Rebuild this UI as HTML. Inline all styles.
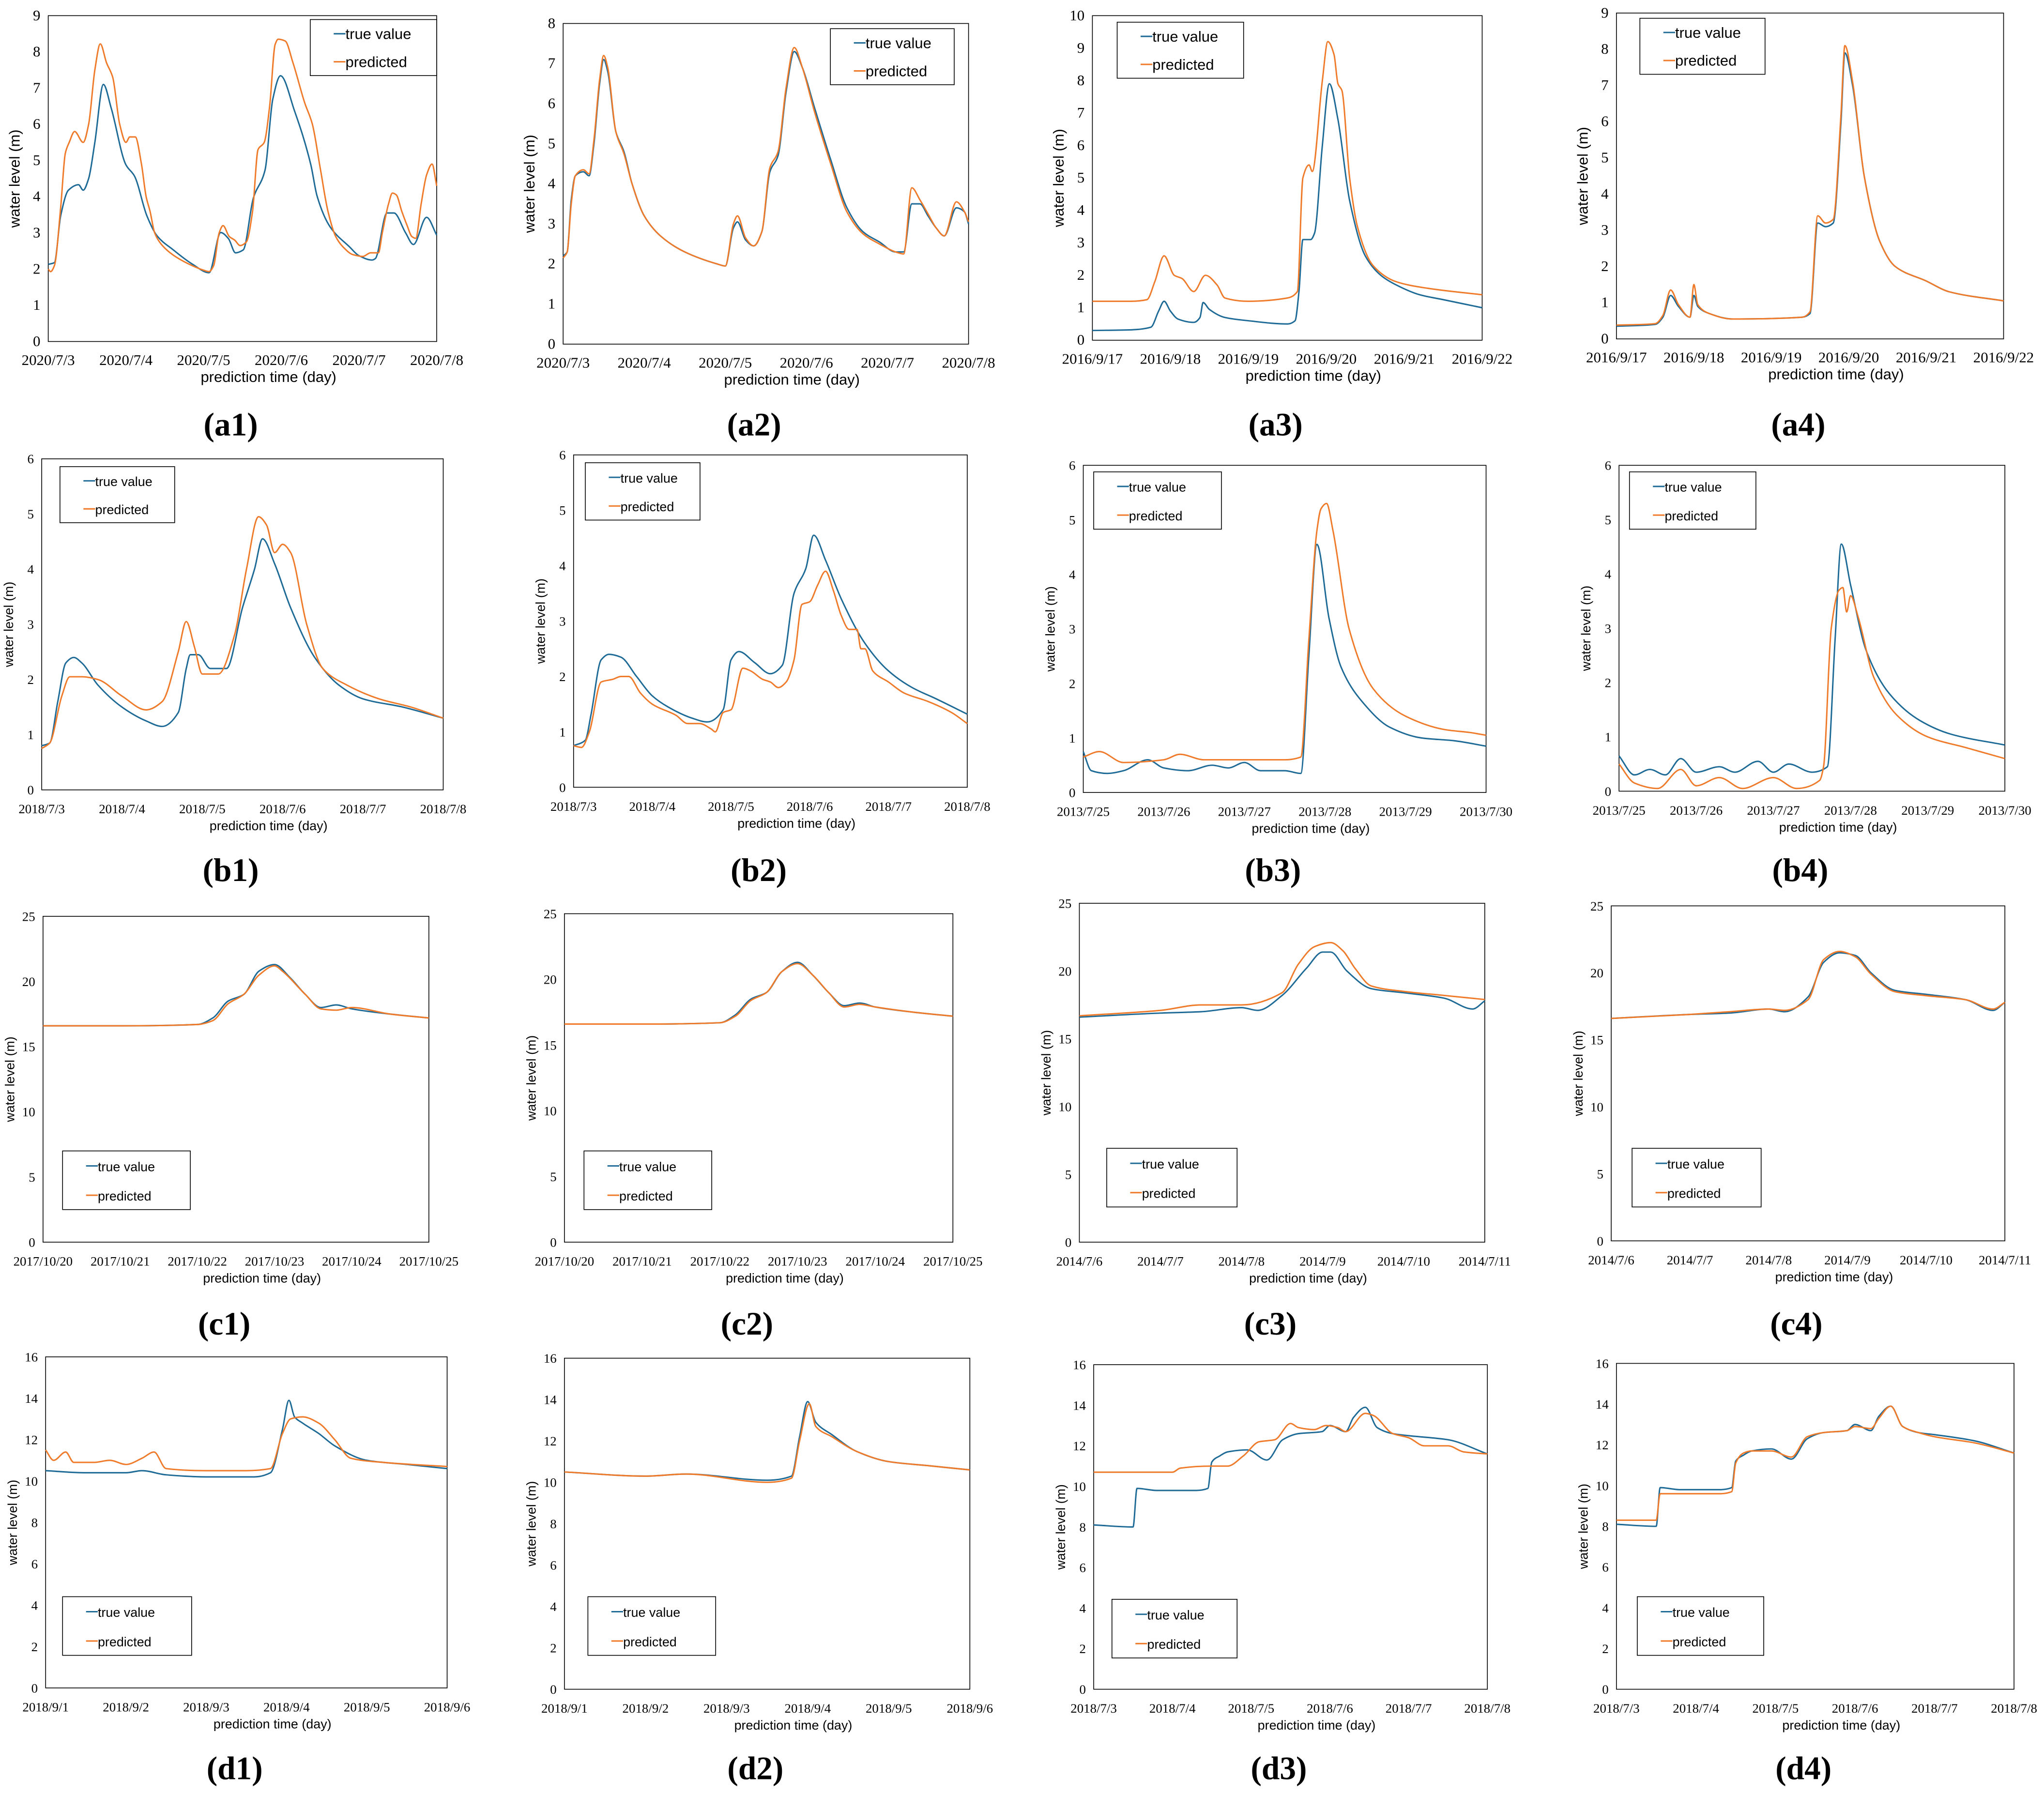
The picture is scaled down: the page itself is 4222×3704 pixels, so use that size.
<!DOCTYPE html>
<html><head><meta charset="utf-8">
<style>
html,body{margin:0;padding:0;background:#fff;}
svg{display:block;}
</style></head>
<body>
<svg id="fig" xmlns="http://www.w3.org/2000/svg" width="4222" height="3704" viewBox="0 0 1568 1375.6">
<rect x="0" y="0" width="1568" height="1375.6" fill="#fff"/>
</svg>
<script>
// ---- data (day offset, water level) ----
const a1_true=[[0,2.13],[0.08,2.18],[0.16,3.47],[0.26,4.18],[0.39,4.33],[0.45,4.18],[0.52,4.5],[0.6,5.5],[0.71,7.1],[0.81,6.45],[1.0,4.88],[1.11,4.57],[1.27,3.47],[1.4,2.92],[1.61,2.53],[1.86,2.13],[2.07,1.9],[2.22,3.01],[2.32,2.84],[2.41,2.45],[2.51,2.53],[2.64,3.96],[2.79,4.73],[2.89,6.69],[2.99,7.34],[3.17,6.37],[3.38,4.88],[3.46,4.02],[3.63,3.16],[3.88,2.61],[4.0,2.37],[4.17,2.25],[4.21,2.29],[4.36,3.55],[4.45,3.55],[4.6,3.0],[4.7,2.68],[4.87,3.43],[5,2.94]];
const a1_pred=[[0,2.0],[0.03,1.93],[0.08,2.1],[0.16,3.7],[0.22,5.2],[0.27,5.5],[0.34,5.8],[0.45,5.5],[0.52,6.0],[0.6,7.5],[0.67,8.22],[0.75,7.7],[0.83,7.3],[0.92,6.0],[1.0,5.5],[1.05,5.65],[1.12,5.65],[1.2,4.9],[1.26,4.0],[1.31,3.6],[1.37,3.0],[1.45,2.7],[1.6,2.4],[1.8,2.15],[2.0,1.97],[2.07,1.93],[2.13,2.1],[2.2,3.0],[2.25,3.2],[2.33,2.9],[2.4,2.8],[2.47,2.65],[2.55,2.75],[2.63,3.6],[2.7,5.3],[2.78,5.5],[2.85,6.5],[2.92,8.2],[2.96,8.35],[3.05,8.3],[3.15,7.7],[3.3,6.6],[3.4,6.0],[3.5,4.8],[3.6,3.6],[3.7,2.9],[3.8,2.6],[3.92,2.4],[4.05,2.35],[4.15,2.45],[4.25,2.45],[4.3,3.0],[4.38,3.8],[4.43,4.1],[4.48,4.05],[4.55,3.6],[4.62,3.2],[4.68,2.9],[4.73,2.85],[4.8,3.8],[4.87,4.6],[4.94,4.9],[5.0,4.3]];
const a2_true=[[0,2.2],[0.05,2.3],[0.1,3.6],[0.15,4.2],[0.25,4.3],[0.32,4.2],[0.38,5.0],[0.45,6.5],[0.5,7.1],[0.55,6.8],[0.65,5.3],[0.75,4.8],[0.85,4.0],[1.0,3.2],[1.2,2.7],[1.5,2.3],[1.9,2.0],[2.0,1.95],[2.1,2.9],[2.15,3.05],[2.25,2.6],[2.35,2.45],[2.45,2.8],[2.55,4.3],[2.65,4.7],[2.75,6.3],[2.85,7.3],[2.95,6.9],[3.1,5.9],[3.3,4.6],[3.5,3.4],[3.7,2.8],[3.9,2.55],[4.1,2.3],[4.2,2.3],[4.3,3.5],[4.4,3.5],[4.5,3.2],[4.6,2.9],[4.7,2.7],[4.85,3.4],[4.95,3.3],[5.0,3.0]];
const a2_pred=[[0,2.15],[0.05,2.3],[0.1,3.5],[0.15,4.2],[0.25,4.35],[0.32,4.25],[0.38,5.1],[0.45,6.6],[0.5,7.2],[0.55,6.9],[0.65,5.3],[0.75,4.75],[0.85,4.0],[1.0,3.2],[1.2,2.7],[1.5,2.3],[1.9,2.0],[2.0,1.95],[2.1,3.0],[2.15,3.2],[2.25,2.65],[2.35,2.45],[2.45,2.8],[2.55,4.4],[2.65,4.8],[2.75,6.4],[2.85,7.4],[2.95,6.9],[3.1,5.8],[3.3,4.5],[3.5,3.3],[3.7,2.75],[3.9,2.5],[4.1,2.3],[4.2,2.25],[4.3,3.9],[4.4,3.6],[4.5,3.25],[4.6,2.9],[4.7,2.7],[4.85,3.55],[4.95,3.3],[5.0,3.05]];
const a3_true=[[0,0.3],[0.5,0.32],[0.75,0.4],[0.85,0.9],[0.92,1.2],[1.0,0.9],[1.1,0.65],[1.3,0.55],[1.38,0.7],[1.42,1.16],[1.5,0.95],[1.7,0.7],[2.0,0.6],[2.5,0.5],[2.6,0.6],[2.65,1.5],[2.7,3.1],[2.8,3.1],[2.85,3.3],[2.95,6.0],[3.04,7.9],[3.15,6.8],[3.3,4.3],[3.5,2.6],[3.7,2.0],[3.9,1.7],[4.2,1.4],[4.5,1.25],[5,1.0]];
const a3_pred=[[0,1.2],[0.5,1.2],[0.7,1.25],[0.8,1.8],[0.92,2.6],[1.05,2.0],[1.15,1.9],[1.3,1.5],[1.45,2.0],[1.6,1.7],[1.7,1.3],[2.0,1.2],[2.5,1.3],[2.63,1.5],[2.7,5.0],[2.78,5.4],[2.82,5.2],[2.95,8.0],[3.02,9.2],[3.1,8.8],[3.15,7.9],[3.2,7.7],[3.3,5.0],[3.4,3.5],[3.6,2.3],[3.9,1.8],[4.3,1.6],[5,1.4]];
const a4_true=[[0,0.35],[0.5,0.4],[0.6,0.6],[0.7,1.2],[0.8,0.9],[0.95,0.6],[1.0,1.2],[1.05,0.9],[1.2,0.7],[1.5,0.55],[2.4,0.6],[2.5,0.7],[2.6,3.2],[2.7,3.1],[2.8,3.2],[2.9,6.0],[2.95,7.9],[3.05,7.0],[3.2,4.5],[3.4,2.7],[3.6,2.0],[4.0,1.6],[4.3,1.3],[5,1.05]];
const a4_pred=[[0,0.38],[0.5,0.42],[0.6,0.65],[0.7,1.35],[0.8,0.95],[0.95,0.6],[1.0,1.5],[1.05,0.95],[1.2,0.7],[1.5,0.55],[2.4,0.6],[2.5,0.75],[2.6,3.4],[2.7,3.2],[2.8,3.3],[2.9,6.2],[2.95,8.1],[3.05,7.1],[3.2,4.5],[3.4,2.7],[3.6,2.0],[4.0,1.6],[4.3,1.3],[5,1.05]];
const b1_true=[[0,0.8],[0.1,0.85],[0.2,1.6],[0.3,2.3],[0.4,2.4],[0.5,2.3],[0.7,1.9],[1.0,1.5],[1.3,1.25],[1.5,1.15],[1.7,1.4],[1.8,2.2],[1.85,2.45],[1.95,2.45],[2.1,2.2],[2.3,2.2],[2.5,3.3],[2.65,4.0],[2.75,4.55],[2.9,4.1],[3.1,3.3],[3.4,2.4],[3.7,1.9],[4.0,1.65],[4.5,1.5],[5,1.3]];
const b1_pred=[[0,0.75],[0.1,0.85],[0.25,1.7],[0.35,2.05],[0.5,2.05],[0.7,2.0],[1.0,1.7],[1.3,1.45],[1.5,1.6],[1.7,2.5],[1.8,3.05],[1.9,2.6],[2.0,2.1],[2.2,2.1],[2.4,2.8],[2.55,4.0],[2.7,4.95],[2.8,4.8],[2.9,4.3],[3.0,4.45],[3.1,4.3],[3.3,3.0],[3.5,2.2],[3.8,1.9],[4.2,1.65],[4.6,1.5],[5,1.3]];
const b2_true=[[0,0.75],[0.15,0.85],[0.22,1.3],[0.35,2.3],[0.45,2.4],[0.6,2.35],[0.8,2.0],[1.0,1.65],[1.2,1.45],[1.5,1.25],[1.7,1.18],[1.9,1.4],[2.0,2.3],[2.1,2.45],[2.3,2.25],[2.5,2.05],[2.65,2.2],[2.8,3.5],[2.95,3.95],[3.05,4.55],[3.2,4.1],[3.4,3.4],[3.7,2.6],[4.0,2.1],[4.3,1.8],[4.6,1.6],[5,1.32]];
const b2_pred=[[0,0.75],[0.1,0.72],[0.2,1.0],[0.35,1.9],[0.5,1.95],[0.6,2.0],[0.7,2.0],[0.85,1.7],[1.0,1.5],[1.3,1.3],[1.45,1.15],[1.6,1.15],[1.75,1.05],[1.8,1.0],[1.9,1.35],[2.0,1.4],[2.15,2.15],[2.25,2.1],[2.4,1.95],[2.5,1.9],[2.6,1.8],[2.7,1.9],[2.8,2.3],[2.9,3.3],[3.0,3.35],[3.1,3.65],[3.2,3.9],[3.3,3.55],[3.4,3.1],[3.5,2.85],[3.6,2.85],[3.65,2.5],[3.7,2.5],[3.8,2.1],[4.0,1.9],[4.2,1.7],[4.5,1.55],[4.8,1.35],[5,1.15]];
const b3_true=[[0,0.75],[0.1,0.4],[0.3,0.35],[0.5,0.4],[0.8,0.6],[1.0,0.45],[1.3,0.4],[1.6,0.5],[1.8,0.45],[2.0,0.55],[2.2,0.4],[2.5,0.4],[2.7,0.35],[2.8,2.5],[2.9,4.55],[3.05,3.2],[3.2,2.3],[3.5,1.6],[3.8,1.2],[4.2,1.0],[4.6,0.95],[5,0.85]];
const b3_pred=[[0,0.65],[0.2,0.75],[0.5,0.55],[1.0,0.6],[1.2,0.7],[1.5,0.6],[2.0,0.6],[2.5,0.6],[2.7,0.65],[2.8,2.8],[2.9,4.8],[2.95,5.2],[3.02,5.3],[3.1,4.8],[3.3,3.0],[3.6,1.9],[4.0,1.4],[4.5,1.15],[4.8,1.1],[5,1.05]];
const b4_true=[[0,0.65],[0.2,0.3],[0.4,0.4],[0.6,0.3],[0.8,0.6],[1.0,0.35],[1.3,0.45],[1.5,0.35],[1.8,0.55],[2.0,0.35],[2.2,0.5],[2.5,0.35],[2.7,0.45],[2.8,2.8],[2.88,4.55],[3.0,3.8],[3.2,2.6],[3.5,1.8],[3.9,1.3],[4.3,1.05],[5,0.85]];
const b4_pred=[[0,0.5],[0.2,0.15],[0.5,0.05],[0.8,0.4],[1.0,0.1],[1.3,0.25],[1.6,0.05],[2.0,0.25],[2.3,0.05],[2.6,0.2],[2.65,0.45],[2.75,3.0],[2.85,3.7],[2.9,3.75],[2.95,3.3],[3.0,3.6],[3.1,3.2],[3.3,2.1],[3.6,1.4],[4.0,1.0],[4.5,0.8],[5,0.6]];
const c1_true=[[0,16.6],[1,16.6],[2,16.7],[2.2,17.2],[2.4,18.5],[2.6,19.0],[2.8,20.8],[3.0,21.3],[3.2,20.3],[3.4,19.0],[3.6,18.0],[3.8,18.2],[4.0,17.9],[4.5,17.5],[5,17.2]];
const c1_pred=[[0,16.6],[1,16.6],[2,16.7],[2.2,17.0],[2.4,18.3],[2.6,19.0],[2.8,20.5],[3.0,21.2],[3.1,20.8],[3.4,19.0],[3.6,17.9],[3.8,17.8],[4.0,18.0],[4.5,17.5],[5,17.2]];
const c2_true=[[0,16.6],[1,16.6],[2,16.7],[2.2,17.3],[2.4,18.5],[2.6,19.0],[2.8,20.6],[3.0,21.3],[3.2,20.3],[3.4,19.0],[3.6,18.0],[3.8,18.2],[4.0,17.9],[4.5,17.5],[5,17.2]];
const c2_pred=[[0,16.6],[1,16.6],[2,16.7],[2.2,17.2],[2.4,18.4],[2.6,19.0],[2.8,20.6],[3.0,21.2],[3.2,20.3],[3.4,19.0],[3.6,17.9],[3.8,18.1],[4.0,17.9],[4.5,17.5],[5,17.2]];
const c3_true=[[0,16.6],[1.0,16.9],[1.5,17.0],[2.0,17.3],[2.2,17.1],[2.5,18.2],[2.8,20.2],[3.0,21.4],[3.1,21.4],[3.3,20.0],[3.6,18.7],[4.0,18.4],[4.5,18.0],[4.85,17.2],[5,17.8]];
const c3_pred=[[0,16.7],[1.0,17.1],[1.5,17.5],[2.0,17.5],[2.5,18.4],[2.7,20.5],[2.9,21.8],[3.1,22.1],[3.25,21.5],[3.4,20.2],[3.6,18.9],[4.0,18.5],[4.5,18.2],[5,17.9]];
const c4_true=[[0,16.6],[1.0,16.9],[1.5,17.0],[2.0,17.3],[2.2,17.1],[2.5,18.2],[2.7,20.8],[2.9,21.5],[3.1,21.3],[3.3,20.0],[3.6,18.7],[4.0,18.4],[4.5,18.0],[4.85,17.2],[5,17.8]];
const c4_pred=[[0,16.6],[1.0,16.9],[1.5,17.1],[2.0,17.3],[2.2,17.2],[2.5,18.0],[2.7,21.0],[2.9,21.6],[3.1,21.2],[3.3,19.9],[3.6,18.6],[4.0,18.3],[4.5,18.0],[4.85,17.3],[5,17.8]];
const d1_true=[[0,10.5],[0.5,10.4],[1.0,10.4],[1.2,10.5],[1.5,10.3],[2.0,10.2],[2.6,10.2],[2.8,10.4],[2.95,12.5],[3.03,13.9],[3.1,13.1],[3.2,12.8],[3.4,12.3],[3.6,11.7],[4.0,11.0],[4.5,10.8],[5,10.6]];
const d1_pred=[[0,11.5],[0.1,11.0],[0.25,11.4],[0.35,10.9],[0.6,10.9],[0.8,11.0],[1.0,10.8],[1.2,11.1],[1.35,11.4],[1.5,10.6],[2.0,10.5],[2.5,10.5],[2.8,10.6],[2.95,12.3],[3.05,13.0],[3.2,13.1],[3.4,12.8],[3.6,12.0],[3.8,11.1],[4.2,10.9],[5,10.7]];
const d2_true=[[0,10.5],[1,10.3],[1.5,10.4],[2.5,10.1],[2.8,10.3],[2.9,12.2],[3.0,13.9],[3.1,12.9],[3.3,12.3],[3.6,11.5],[4.0,11.0],[4.5,10.8],[5,10.6]];
const d2_pred=[[0,10.5],[1,10.3],[1.5,10.4],[2.5,10.0],[2.8,10.2],[2.9,12.0],[3.02,13.8],[3.1,12.7],[3.3,12.2],[3.6,11.5],[4.0,11.0],[4.5,10.8],[5,10.6]];
const d3_true=[[0,8.1],[0.5,8.0],[0.55,9.9],[0.8,9.8],[1.3,9.8],[1.45,9.9],[1.5,11.2],[1.6,11.5],[1.7,11.7],[1.95,11.8],[2.2,11.3],[2.4,12.3],[2.6,12.6],[2.9,12.7],[3.0,13.0],[3.2,12.7],[3.3,13.4],[3.45,13.9],[3.6,12.9],[3.8,12.6],[4.0,12.5],[4.5,12.3],[5,11.6]];
const d3_pred=[[0,10.7],[1.0,10.7],[1.1,10.9],[1.5,11.0],[1.7,11.0],[1.9,11.5],[2.1,12.2],[2.3,12.3],[2.5,13.1],[2.6,12.9],[2.8,12.8],[2.95,13.0],[3.1,12.9],[3.2,12.7],[3.45,13.6],[3.55,13.5],[3.8,12.6],[4.0,12.4],[4.2,12.0],[4.5,12.0],[4.7,11.7],[5,11.6]];
const d4_true=[[0,8.1],[0.5,8.0],[0.55,9.9],[0.8,9.8],[1.3,9.8],[1.45,9.9],[1.5,11.2],[1.6,11.5],[1.7,11.7],[1.95,11.8],[2.2,11.3],[2.4,12.3],[2.6,12.6],[2.9,12.7],[3.0,13.0],[3.2,12.7],[3.3,13.4],[3.45,13.9],[3.6,12.9],[3.8,12.6],[4.0,12.5],[4.5,12.2],[5,11.6]];
const d4_pred=[[0,8.3],[0.5,8.3],[0.55,9.6],[0.8,9.6],[1.3,9.6],[1.45,9.7],[1.5,11.1],[1.6,11.6],[1.7,11.7],[1.95,11.7],[2.2,11.4],[2.4,12.4],[2.6,12.6],[2.9,12.7],[3.0,12.9],[3.2,12.8],[3.3,13.3],[3.45,13.9],[3.6,12.9],[3.8,12.6],[4.0,12.4],[4.5,12.1],[5,11.6]];
// tick labels
const datesA12=["2020/7/3","2020/7/4","2020/7/5","2020/7/6","2020/7/7","2020/7/8"];
const datesA34=["2016/9/17","2016/9/18","2016/9/19","2016/9/20","2016/9/21","2016/9/22"];
const datesB12=["2018/7/3","2018/7/4","2018/7/5","2018/7/6","2018/7/7","2018/7/8"];
const datesB34=["2013/7/25","2013/7/26","2013/7/27","2013/7/28","2013/7/29","2013/7/30"];
const datesC12=["2017/10/20","2017/10/21","2017/10/22","2017/10/23","2017/10/24","2017/10/25"];
const datesC34=["2014/7/6","2014/7/7","2014/7/8","2014/7/9","2014/7/10","2014/7/11"];
const datesD1=["2018/9/1","2018/9/2","2018/9/3","2018/9/4","2018/9/5","2018/9/6"];
const datesD3=["2018/7/3","2018/7/4","2018/7/5","2018/7/6","2018/7/7","2018/7/8"];

// ---- layout (positions in 1568-wide units) ----
const panels=[
 {id:"a1",L:37,R:335,T:12,B:262,ymax:9,step:1,dates:datesA12,t:a1_true,p:a1_pred,lg:[238,15,97,43],fs:11.5,lab:326},
 {id:"a2",L:432,R:743,T:18,B:264,ymax:8,step:1,dates:datesA12,t:a2_true,p:a2_pred,lg:[637,22,95,43],fs:11.5,lab:326},
 {id:"a3",L:838,R:1137,T:12,B:261,ymax:10,step:1,dates:datesA34,t:a3_true,p:a3_pred,lg:[857,17,97,43],fs:11.5,lab:326},
 {id:"a4",L:1240,R:1537,T:10,B:260,ymax:9,step:1,dates:datesA34,t:a4_true,p:a4_pred,lg:[1258,14,96,43],fs:11.5,lab:326},
 {id:"b1",L:32,R:340,T:352,B:606,ymax:6,step:1,dates:datesB12,t:b1_true,p:b1_pred,lg:[46,358,88,43],fs:10,lab:668},
 {id:"b2",L:440,R:742,T:349,B:604,ymax:6,step:1,dates:datesB12,t:b2_true,p:b2_pred,lg:[449,355,88,44],fs:10,lab:668},
 {id:"b3",L:831,R:1140,T:357,B:608,ymax:6,step:1,dates:datesB34,t:b3_true,p:b3_pred,lg:[839,362,98,44],fs:10,lab:668},
 {id:"b4",L:1242,R:1538,T:357,B:607,ymax:6,step:1,dates:datesB34,t:b4_true,p:b4_pred,lg:[1250,362,97,44],fs:10,lab:668},
 {id:"c1",L:33,R:329,T:703,B:953,ymax:25,step:5,dates:datesC12,t:c1_true,p:c1_pred,lg:[48,883,98,45],fs:10,lab:1016},
 {id:"c2",L:433,R:731,T:701,B:953,ymax:25,step:5,dates:datesC12,t:c2_true,p:c2_pred,lg:[448,883,98,45],fs:10,lab:1016},
 {id:"c3",L:828,R:1139,T:693,B:953,ymax:25,step:5,dates:datesC34,t:c3_true,p:c3_pred,lg:[849,881,100,45],fs:10,lab:1016},
 {id:"c4",L:1236,R:1538,T:695,B:952,ymax:25,step:5,dates:datesC34,t:c4_true,p:c4_pred,lg:[1252,881,99,45],fs:10,lab:1016},
 {id:"d1",L:35,R:343,T:1041,B:1295,ymax:16,step:2,dates:datesD1,t:d1_true,p:d1_pred,lg:[48,1225,99,45],fs:10,lab:1357},
 {id:"d2",L:433,R:744,T:1042,B:1296,ymax:16,step:2,dates:datesD1,t:d2_true,p:d2_pred,lg:[451,1225,98,45],fs:10,lab:1357},
 {id:"d3",L:839,R:1141,T:1047,B:1296,ymax:16,step:2,dates:datesD3,t:d3_true,p:d3_pred,lg:[853,1227,96,45],fs:10,lab:1357},
 {id:"d4",L:1240,R:1545,T:1046,B:1296,ymax:16,step:2,dates:datesD3,t:d4_true,p:d4_pred,lg:[1256,1225,97,45],fs:10,lab:1357}
];
const BLUE="#1d6a96", ORANGE="#ef7a2a";
const NS="http://www.w3.org/2000/svg";
const svg=document.getElementById("fig");
function mk(tag,attrs,parent){const e=document.createElementNS(NS,tag);for(const k in attrs)e.setAttribute(k,attrs[k]);(parent||svg).appendChild(e);return e;}
// monotone cubic path through screen points
function smoothPath(pts){
  const n=pts.length; if(n<3) return pts.map((p,i)=>(i?"L":"M")+p[0]+","+p[1]).join(" ");
  const dx=[],sl=[];
  for(let i=0;i<n-1;i++){dx[i]=pts[i+1][0]-pts[i][0];sl[i]=(pts[i+1][1]-pts[i][1])/dx[i];}
  const m=[sl[0]];
  for(let i=1;i<n-1;i++){ if(sl[i-1]*sl[i]<=0) m[i]=0; else { const w1=2*dx[i]+dx[i-1], w2=dx[i]+2*dx[i-1]; m[i]=(w1+w2)/(w1/sl[i-1]+w2/sl[i]); } }
  m[n-1]=sl[n-2];
  let d="M"+pts[0][0].toFixed(2)+","+pts[0][1].toFixed(2);
  for(let i=0;i<n-1;i++){
    const h=dx[i]/3;
    d+=" C"+(pts[i][0]+h).toFixed(2)+","+(pts[i][1]+m[i]*h).toFixed(2)+" "+(pts[i+1][0]-h).toFixed(2)+","+(pts[i+1][1]-m[i+1]*h).toFixed(2)+" "+pts[i+1][0].toFixed(2)+","+pts[i+1][1].toFixed(2);
  }
  return d;
}

panels.forEach(P=>{
  const g=mk("g",{});
  
  
  const xs=d=>P.L+(P.R-P.L)*d/5;
  const ys=v=>P.B-(P.B-P.T)*v/P.ymax;
  const frame=mk("rect",{x:P.L,y:P.T,width:P.R-P.L,height:P.B-P.T,fill:"none",stroke:"#000","stroke-width":0.6},g);
  
  
  for(let v=0;v<=P.ymax+1e-9;v+=P.step){
    const t=mk("text",{x:P.L-6,y:ys(v)+3.5,"text-anchor":"end","font-family":"Liberation Serif, serif","font-size":P.fs},g);
    t.textContent=v;
    
    
  }
  P.dates.forEach((d,i)=>{
    const t=mk("text",{x:xs(i),y:P.B+18,"text-anchor":"middle","font-family":"Liberation Serif, serif","font-size":P.fs},g);
    t.textContent=d;
    
    
  });
  const xt=mk("text",{x:(P.L+P.R)/2+20,y:P.B+31,"text-anchor":"middle","font-family":"Liberation Sans, sans-serif","font-size":P.fs},g);
  xt.textContent="prediction time (day)";
  
  
  const cy=(P.T+P.B)/2, cx=P.L-22;
  const yt=mk("text",{x:cx,y:cy,"text-anchor":"middle","font-family":"Liberation Sans, sans-serif","font-size":P.fs,transform:`rotate(-90 ${cx} ${cy})`},g);
  yt.textContent="water level (m)";
  
  
  [[P.t,BLUE,'true-value-line'],[P.p,ORANGE,'predicted-line']].forEach(([arr,col,nm])=>{
    const pts=arr.map(pt=>[xs(pt[0]),ys(pt[1])]);
    const path=mk("path",{d:smoothPath(pts),fill:"none",stroke:col,"stroke-width":1.1,"stroke-linejoin":"round"},g);
    
    
  });
  const [lx,ly,lw,lh]=P.lg;
  const lg=mk("g",{},g);
  
  
  mk("rect",{x:lx,y:ly,width:lw,height:lh,fill:"#fff",stroke:"#000","stroke-width":0.6},lg);
  [[BLUE,"true value",0.3],[ORANGE,"predicted",0.8]].forEach(([col,txt,f])=>{
    const yy=ly+lh*f-2;
    const e=mk("g",{},lg);
    
    
    mk("line",{x1:lx+18,x2:lx+27,y1:yy,y2:yy,stroke:col,"stroke-width":1.1},e);
    const t=mk("text",{x:lx+27,y:yy+4,"font-family":"Liberation Sans, sans-serif","font-size":P.fs},e);
    t.textContent=txt;
  });
  const pl=mk("text",{x:(P.L+P.R)/2-9,y:P.lab+8,"text-anchor":"middle","font-family":"Liberation Serif, serif","font-size":25,"font-weight":"bold"},g);
  pl.textContent="("+P.id+")";
  
  
});
</script>
</body></html>
